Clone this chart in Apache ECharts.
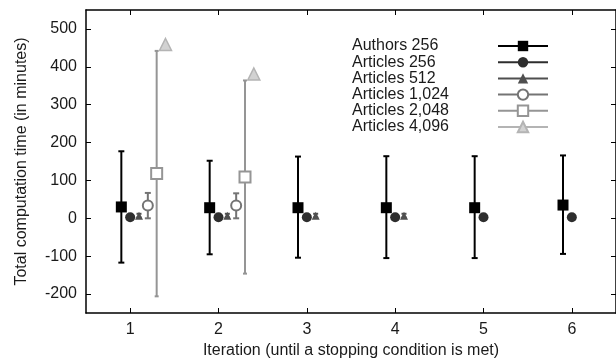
<!DOCTYPE html>
<html>
<head>
<meta charset="utf-8">
<script src="https://cdn.jsdelivr.net/npm/echarts@6/dist/echarts.min.js"></script>
<style>
  html, body { margin: 0; padding: 0; background: #fff; }
  #chart { width: 616px; height: 364px; }
</style>
</head>
<body>
<div id="chart"></div>
<script>
// data
const iterations = [1, 2, 3, 4, 5, 6];
const xTicks = [1, 2, 3, 4, 5, 6];
const yTicks = [-200, -100, 0, 100, 200, 300, 400, 500];

const authors256Mean = [30, 28, 28, 28, 28, 35];
const authors256Low = [-117, -95, -104, -105, -105, -94];
const authors256High = [177, 152, 163, 164, 164, 166];

const articles256Mean = [3, 3, 3, 3, 3, 3];
const articles256Low = [0, 0, 0, 0, 0, 0];
const articles256High = [6, 6, 6, 6, 6, 6];

const articles512Mean = [7, 7, 7, 7];
const articles512Low = [2, 2, 2, 2];
const articles512High = [12, 12, 12, 12];

const articles1024Mean = [34, 34];
const articles1024Low = [0, 0];
const articles1024High = [67, 66];

const articles2048Mean = [118, 109];
const articles2048Low = [-206, -146];
const articles2048High = [442, 364];

const articles4096Mean = [459, 381];

const groups = [
  { name: 'Authors 256', mean: authors256Mean, low: authors256Low, high: authors256High },
  { name: 'Articles 256', mean: articles256Mean, low: articles256Low, high: articles256High },
  { name: 'Articles 512', mean: articles512Mean, low: articles512Low, high: articles512High },
  { name: 'Articles 1,024', mean: articles1024Mean, low: articles1024Low, high: articles1024High },
  { name: 'Articles 2,048', mean: articles2048Mean, low: articles2048Low, high: articles2048High },
  { name: 'Articles 4,096', mean: articles4096Mean, low: null, high: null },
];

// look of each group
const STYLES = [
  { dx: -0.1, color: '#000000', symbol: 'rect', size: 11, cap: 6, border: 0 },
  { dx: 0, color: '#2e2e2e', symbol: 'circle', size: 10, cap: 6, border: 0 },
  { dx: 0.1, color: '#4f4f4f', symbol: 'triangle', size: 8, cap: 5, border: 0 },
  { dx: 0.2, color: '#747474', symbol: 'emptyCircle', size: 10, cap: 6, border: 2 },
  { dx: 0.3, color: '#959595', symbol: 'emptyRect', size: 11, cap: 4, border: 2 },
  { dx: 0.4, color: '#b4b4b4', symbol: 'triangle', size: 12, cap: 4, border: 1.5, fill: '#d2d2d2' },
];

const FONT = "'Liberation Sans', Arial, sans-serif";
const TEXT = '#1a1a1a';

const chart = echarts.init(document.getElementById('chart'), null, { renderer: 'canvas' });

const series = [];

groups.forEach((g, i) => {
  const st = STYLES[i];
  if (g.low) {
    series.push({
      name: g.name + ' err',
      type: 'custom',
      z: 1,
      silent: true,
      data: g.mean.map((_, k) => [iterations[k] + st.dx, g.low[k], g.high[k]]),
      renderItem: (params, api) => {
        const lo = api.coord([api.value(0), api.value(1)]);
        const hi = api.coord([api.value(0), api.value(2)]);
        const w = st.cap / 2;
        return {
          type: 'group',
          children: [
            { type: 'line', shape: { x1: lo[0], y1: lo[1], x2: hi[0], y2: hi[1] }, style: { stroke: st.color, lineWidth: 2 } },
            { type: 'line', shape: { x1: lo[0] - w, y1: lo[1], x2: lo[0] + w, y2: lo[1] }, style: { stroke: st.color, lineWidth: 2 } },
            { type: 'line', shape: { x1: hi[0] - w, y1: hi[1], x2: hi[0] + w, y2: hi[1] }, style: { stroke: st.color, lineWidth: 2 } },
          ],
        };
      },
    });
  }
  series.push({
    name: g.name,
    type: 'line',
    z: 3,
    symbol: st.symbol,
    symbolSize: st.size,
    showSymbol: true,
    color: st.color,
    lineStyle: { opacity: 0, width: 2, color: st.color },
    itemStyle: {
      color: st.fill || st.color,
      borderColor: st.color,
      borderWidth: st.border,
    },
    emphasis: { disabled: true },
    data: g.mean.map((v, k) => [iterations[k] + st.dx, v]),
  });
});

const option = {
  animation: false,
  textStyle: { fontFamily: FONT, color: TEXT },
  grid: { left: 86, right: -2, top: 10, bottom: 51 },
  legend: {
    orient: 'vertical',
    left: 352,
    top: 38,
    padding: 0,
    align: 'right',
    itemWidth: 50,
    itemHeight: 13,
    itemGap: 0.2,
    lineStyle: { opacity: 1, width: 2 },
    data: groups.map((g) => g.name),
    formatter: (name) => '{t|' + name + '}',
    textStyle: {
      fontFamily: FONT,
      color: TEXT,
      fontSize: 16,
      rich: {
        t: { fontFamily: FONT, color: TEXT, fontSize: 16, lineHeight: 16, width: 141, align: 'left' },
      },
    },
  },
  xAxis: [
    {
      type: 'value',
      min: 0.5,
      max: 6.5,
      axisLine: { onZero: false, lineStyle: { color: '#000', width: 1.5 } },
      axisTick: { inside: true, length: 5, customValues: xTicks, lineStyle: { color: '#000' } },
      axisLabel: { customValues: xTicks, fontFamily: FONT, fontSize: 16, color: TEXT, margin: 9 },
      splitLine: { show: false },
      name: 'Iteration (until a stopping condition is met)',
      nameLocation: 'middle',
      nameGap: 30,
      nameTextStyle: { fontFamily: FONT, fontSize: 16, color: TEXT },
    },
    {
      type: 'value',
      position: 'top',
      min: 0.5,
      max: 6.5,
      axisLine: { onZero: false, lineStyle: { color: '#000', width: 1.5 } },
      axisTick: { inside: true, length: 5, customValues: xTicks, lineStyle: { color: '#000' } },
      axisLabel: { show: false },
      splitLine: { show: false },
    },
  ],
  yAxis: [
    {
      type: 'value',
      min: -250,
      max: 550,
      axisLine: { show: true, onZero: false, lineStyle: { color: '#000', width: 1.5 } },
      axisTick: { show: true, inside: true, length: 5, customValues: yTicks, lineStyle: { color: '#000' } },
      axisLabel: { customValues: yTicks, fontFamily: FONT, fontSize: 16, color: TEXT, margin: 9 },
      splitLine: { show: false },
      name: 'Total computation time (in minutes)',
      nameLocation: 'middle',
      nameGap: 56,
      nameTextStyle: { fontFamily: FONT, fontSize: 16, color: TEXT },
    },
    {
      type: 'value',
      position: 'right',
      min: -250,
      max: 550,
      axisLine: { show: true, onZero: false, lineStyle: { color: '#000', width: 1.5 } },
      axisTick: { show: true, inside: true, length: 5, customValues: yTicks, lineStyle: { color: '#000' } },
      axisLabel: { show: false },
      splitLine: { show: false },
    },
  ],
  series: series,
};

chart.setOption(option);
</script>
</body>
</html>
